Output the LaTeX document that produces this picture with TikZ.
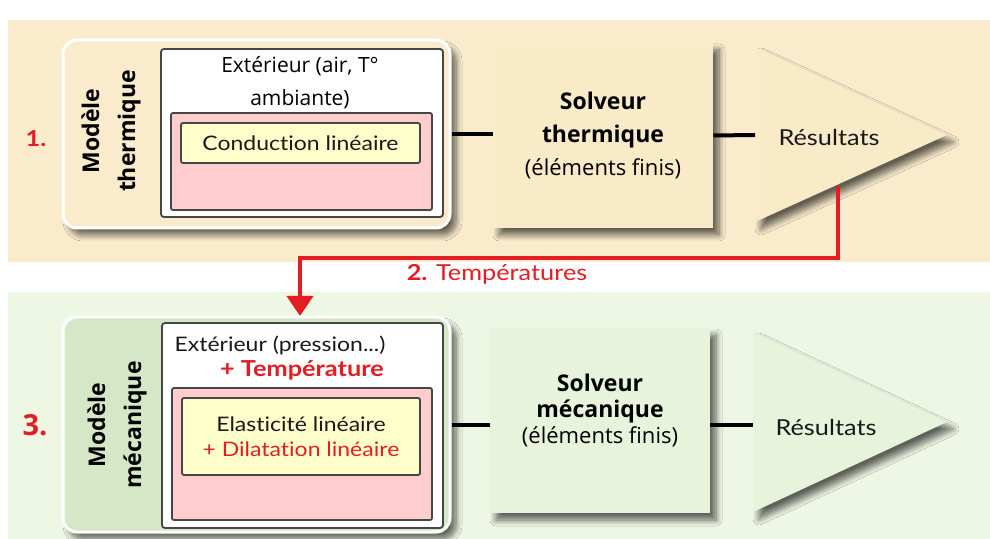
\documentclass[tikz,border=0pt]{standalone}
\usepackage{fontspec}
\setmainfont{Open Sans}
\newfontfamily\gill[FakeStretch=1.15,Ligatures=NoCommon]{Lato}
\usetikzlibrary{arrows.meta,shadows.blur}
\definecolor{beige}{RGB}{249,235,204}
\definecolor{beigebox}{RGB}{249,234,200}
\definecolor{vert}{RGB}{238,246,228}
\definecolor{vertbox}{RGB}{232,243,220}
\definecolor{vertfonce}{RGB}{213,231,199}
\definecolor{rose}{RGB}{255,205,205}
\definecolor{jaune}{RGB}{255,255,204}
\definecolor{rouge}{RGB}{228,28,36}
\definecolor{gris}{RGB}{70,70,70}

\begin{document}
\begin{tikzpicture}[x=0.5pt,y=-0.5pt,
  ombre/.style={blur shadow={shadow xshift=3pt,shadow yshift=-3.5pt,shadow blur steps=8,shadow blur radius=3pt,shadow opacity=60}},
  bloc/.style={rounded corners=7pt,draw=white,line width=1.5pt,minimum width=193.5pt,ombre},
  cadre/.style={draw=gris,line width=0.9pt,rounded corners=1.5pt,fill=white,minimum width=141pt},
  rosebox/.style={draw=gris,line width=0.9pt,fill=rose,rounded corners=1pt,minimum width=130.5pt},
  jaunebox/.style={draw=gris,line width=0.9pt,fill=jaune,rounded corners=1pt,minimum width=119.5pt,align=center,text=black!90,font=\gill\fontsize{10}{12.5}\selectfont},
  solveur/.style={minimum width=110pt,minimum height=92.5pt,ombre},
  lien/.style={line width=2pt},
  titre/.style={rotate=90,align=center,font=\bfseries\fontsize{11.5}{18}\selectfont},
  numero/.style={text=rouge,font=\gill\bfseries\fontsize{11}{13}\selectfont},
  res/.style={text=black!90,font=\gill\fontsize{11}{13}\selectfont}
]
\useasboundingbox (0,0) rectangle (990,539);
% bandeaux
\fill[beige] (8,20) rectangle (990,262);
\fill[vert] (8,292) rectangle (990,539);

% 1. modele thermique
\node[bloc,fill=beige,minimum height=94pt] (mod1) at (256.5,134) {};
\node[cadre,minimum height=84pt] (ext1) at (302,133) {};
\node[rosebox,minimum height=48.5pt] (rose1) at (301.5,161.5) {};
\node[jaunebox,minimum height=20pt] (cond1) at (300.5,143) {Conduction linéaire};
\node[align=center,font=\fontsize{10.5}{16.5}\selectfont] (air1) at (300,83) {Extérieur (air, T°\\ambiante)};
\node[titre] (lab1) at (111,131) {Modèle\\thermique};
\node[numero] (num1) at (36,139) {1.};

\node[solveur,fill=beigebox] (sol1) at (603,135.5) {};
\node[align=center,font=\fontsize{11.5}{16.5}\selectfont] (txt1) at (603,135.5)
  {\textbf{Solveur}\\\textbf{thermique}\\{\fontsize{11}{16.5}\selectfont(éléments finis)}};
\fill[beigebox,ombre] (755,47) -- (947,135) -- (755,222) -- cycle;
\coordinate (tri1) at (755,135);
\node[res] (res1) at (829,137) {Résultats};
\draw[lien] (mod1.east) -- (mod1.east -| sol1.west);
\draw[lien] (sol1.east) -- (tri1);

% 2. temperatures
\coordinate (tout) at (838,186);
\coordinate (tin) at (300,316);
\draw[rouge,line width=2pt,-{Triangle[width=13pt,length=10pt]}] (tout) -- ++(0,72) -| (tin);
\node[text=rouge,font=\gill\fontsize{11}{13}\selectfont] (temp) at (497,274) {\textbf{2.} Températures};

% 3. modele mecanique
\node[bloc,fill=vertfonce,minimum height=107.5pt] (mod3) at (256.5,424.5) {};
\node[cadre,minimum height=102.5pt,minimum width=140.5pt] (ext3) at (302.5,425.5) {};
\node[rosebox,minimum height=66pt,minimum width=130pt] (rose3) at (302,454) {};
\node[jaunebox,minimum height=38.5pt,minimum width=119pt] (elas3) at (301,436.5)
  {Elasticité linéaire\\\textcolor{rouge}{+ Dilatation linéaire}};
\node[text=black!90,font=\gill\fontsize{10}{12}\selectfont] (pres3) at (280,345) {Extérieur (pression...)};
\node[text=rouge,font=\gill\bfseries\fontsize{11}{13}\selectfont] (plus3) at (302,370) {+ Température};
\node[titre] (lab3) at (117,425) {Modèle\\mécanique};
\node[numero,font=\bfseries\fontsize{14.5}{16}\selectfont] (num3) at (35,425) {3.};

\node[solveur,fill=vertbox] (sol3) at (600,420.5) {};
\node[align=center,font=\fontsize{11.5}{13}\selectfont] (txt3) at (600,411)
  {\textbf{Solveur}\\\textbf{mécanique}\\{\fontsize{11}{13}\selectfont(éléments finis)}};
\fill[vertbox,ombre] (753,332) -- (947,422) -- (753,512) -- cycle;
\coordinate (tri3) at (753,424.5);
\node[res] (res3) at (826,427) {Résultats};
\draw[lien] (mod3.east) -- (mod3.east -| sol3.west);
\draw[lien] (mod3.east -| sol3.east) -- (tri3);
\end{tikzpicture}
\end{document}
